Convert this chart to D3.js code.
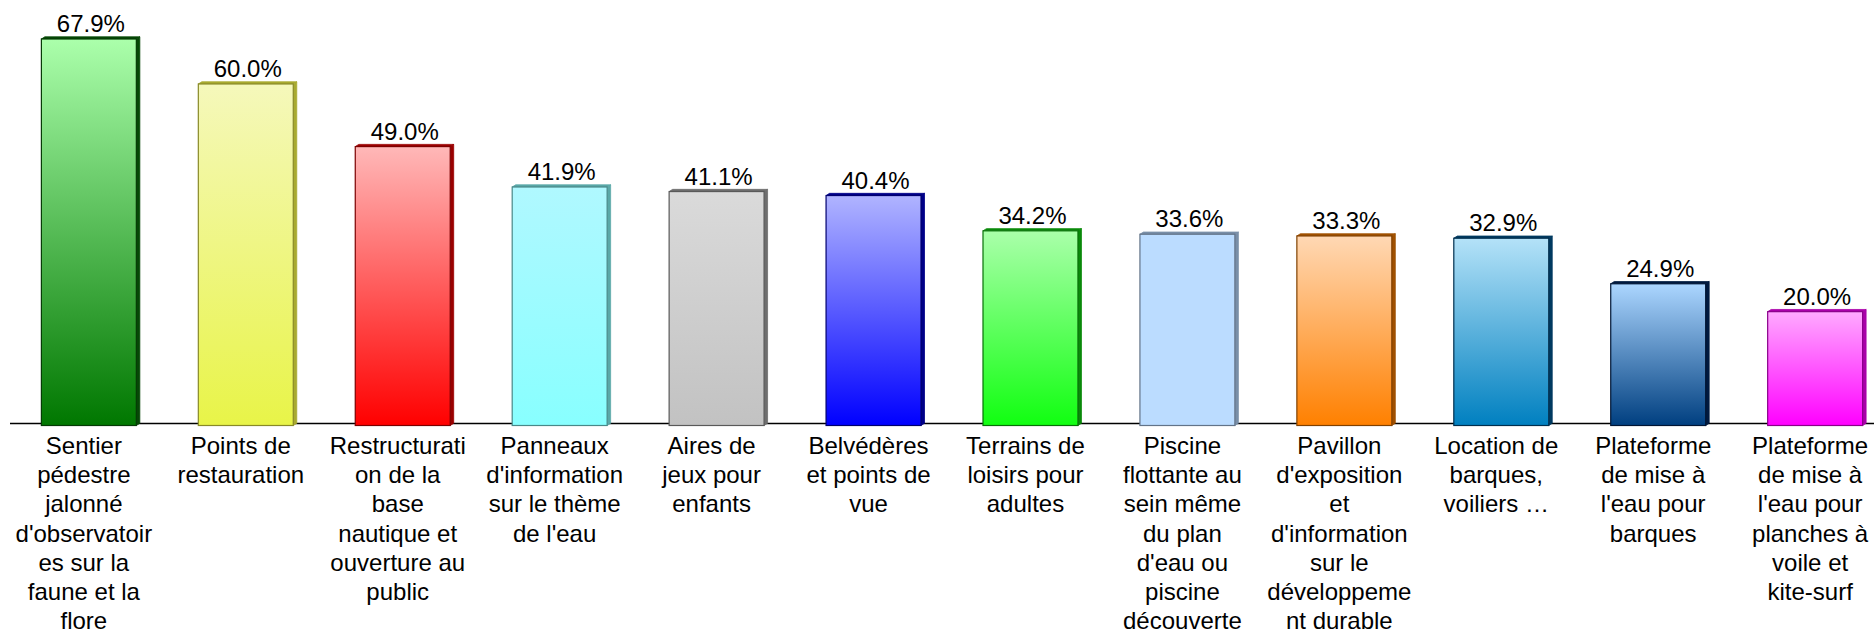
<!DOCTYPE html>
<html>
<head>
<meta charset="utf-8">
<script src="https://cdn.jsdelivr.net/npm/d3@7"></script>
<style>
  body { margin: 0; background: #fff; }
  text { font-family: "Liberation Sans", Arial, sans-serif; fill: #000; }
</style>
</head>
<body>
<script>
// categories, one entry per bar, already split the way the original wraps them
const categories = [
  ["Sentier", "pédestre", "jalonné", "d'observatoir", "es sur la", "faune et la", "flore"],
  ["Points de", "restauration"],
  ["Restructurati", "on de la", "base", "nautique et", "ouverture au", "public"],
  ["Panneaux", "d'information", "sur le thème", "de l'eau"],
  ["Aires de", "jeux pour", "enfants"],
  ["Belvédères", "et points de", "vue"],
  ["Terrains de", "loisirs pour", "adultes"],
  ["Piscine", "flottante au", "sein même", "du plan", "d'eau ou", "piscine", "découverte"],
  ["Pavillon", "d'exposition", "et", "d'information", "sur le", "développeme", "nt durable"],
  ["Location de", "barques,", "voiliers …"],
  ["Plateforme", "de mise à", "l'eau pour", "barques"],
  ["Plateforme", "de mise à", "l'eau pour", "planches à", "voile et", "kite-surf"]
]
const values = [67.9, 60.0, 49.0, 41.9, 41.1, 40.4, 34.2, 33.6, 33.3, 32.9, 24.9, 20.0]

// bar colours: top of gradient, bottom of gradient, side/edge colour
const topColors = ["#abffab", "#f5f8bb", "#ffb8b8", "#b0f8ff", "#dadada", "#b0b4ff", "#aaffaa", "#bbdcff", "#ffd8b4", "#b4e2f8", "#acd6ff", "#ffaaff"]
const bottomColors = ["#007700", "#e8f448", "#ff0000", "#88ffff", "#c2c2c2", "#0000ff", "#11ff11", "#bbdcff", "#ff8000", "#0080c0", "#003f80", "#ff00ff"]
const sideColors = ["#064806", "#a8aa30", "#990000", "#5aa8a8", "#6e6e6e", "#000088", "#0a8a0a", "#7a8fa8", "#a05000", "#003a60", "#001a40", "#aa00aa"]

const width = 1874, height = 629

const svg = d3.select('body').append('svg')
    .attr('width', width)
    .attr('height', height)

const ids = categories.map((c, i) => 'c' + i)

// x scale for the bars
const xScale = d3.scaleBand()
    .domain(ids)
    .range([10, 1894])
    .paddingInner(0.395)
    .paddingOuter(0.2)

// y scale, no axis drawn in the original
const yScale = d3.scaleLinear()
    .domain([0, 67.9])
    .range([425.5, 39])

// gradients
const defs = svg.append('defs')
ids.forEach((id, i) => {
  const g = defs.append('linearGradient')
      .attr('id', 'grad' + i)
      .attr('x1', 0).attr('y1', 0).attr('x2', 0).attr('y2', 1)
  g.append('stop').attr('offset', '0%').attr('stop-color', topColors[i])
  g.append('stop').attr('offset', '100%').attr('stop-color', bottomColors[i])
})

const dx = 3.5, dy = 2.2 // depth of the 3d effect

// baseline
svg.append('line')
    .attr('x1', 10).attr('x2', 1874)
    .attr('y1', 423.5).attr('y2', 423.5)
    .attr('stroke', '#000')
    .attr('stroke-width', 1.3)

const bars = svg.selectAll('.bar').data(values)
    .enter()
    .append('g')
    .attr('class', 'bar')

// right side
bars.append('polygon')
    .attr('points', (d, i) => {
      const x = xScale(ids[i]) + xScale.bandwidth(), y0 = yScale(d), y1 = yScale(0)
      return [[x, y0], [x + dx, y0 - dy], [x + dx, y1 - dy], [x, y1]].join(' ')
    })
    .attr('fill', (d, i) => sideColors[i])
    .attr('stroke', (d, i) => sideColors[i])
    .attr('stroke-width', 0.8)

// top
bars.append('polygon')
    .attr('points', (d, i) => {
      const x0 = xScale(ids[i]), x1 = x0 + xScale.bandwidth(), y = yScale(d)
      return [[x0, y], [x0 + dx, y - dy], [x1 + dx, y - dy], [x1, y]].join(' ')
    })
    .attr('fill', (d, i) => sideColors[i])
    .attr('stroke', (d, i) => sideColors[i])
    .attr('stroke-width', 0.8)

// front face
bars.append('rect')
    .attr('x', (d, i) => xScale(ids[i]))
    .attr('y', d => yScale(d))
    .attr('width', xScale.bandwidth())
    .attr('height', d => yScale(0) - yScale(d))
    .attr('fill', (d, i) => 'url(#grad' + i + ')')
    .attr('stroke', (d, i) => d3.color(sideColors[i]).darker(0.6))
    .attr('stroke-width', 1.2)

// value labels
svg.selectAll('.val').data(values)
    .enter()
    .append('text')
    .attr('class', 'val')
    .attr('x', (d, i) => xScale(ids[i]) + xScale.bandwidth() / 2 + 2)
    .attr('y', d => yScale(d) - 7)
    .attr('text-anchor', 'middle')
    .attr('font-size', '24px')
    .text(d => d.toFixed(1) + '%')

// category labels
const labels = svg.selectAll('.cat').data(categories)
    .enter()
    .append('text')
    .attr('class', 'cat')
    .attr('text-anchor', 'middle')
    .attr('font-size', '24px')

labels.selectAll('tspan').data((d, i) => d.map(line => ({line: line, i: i})))
    .enter()
    .append('tspan')
    .attr('x', d => xScale(ids[d.i]) + xScale.bandwidth() / 2 - 5)
    .attr('y', (d, j) => 454 + j * 29.2)
    .text(d => d.line)
</script>
</body>
</html>
